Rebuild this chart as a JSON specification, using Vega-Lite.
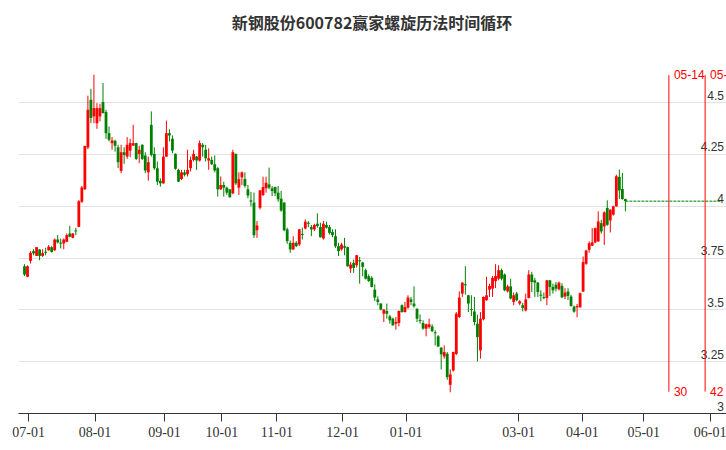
{
  "$schema": "https://vega.github.io/schema/vega-lite/v6.json",
  "autosize": "none",
  "width": 708,
  "height": 353,
  "padding": {"left": 18, "top": 60, "right": 0, "bottom": 37},
  "background": "white",
  "config": {
    "view": {"stroke": null},
    "axisX": {"domainColor": "#333333", "domainWidth": 1, "tickColor": "#333333", "tickSize": 8, "tickWidth": 1,
      "labelColor": "#333333", "labelFont": "Liberation Sans Narrow", "labelFontSize": 14, "labelPadding": 4,
      "labelOverlap": false, "labelBound": false, "labelFlush": 8, "labelFlushOffset": 5, "grid": false},
    "axisY": {"grid": true, "gridColor": "#e3e3e3", "gridWidth": 1, "domain": false, "ticks": false,
      "labelAlign": "right", "labelBaseline": "bottom", "labelPadding": -2.5,
      "labelColor": "#333333", "labelFont": "Liberation Sans", "labelFontSize": 12}
  },
  "title": {"text": "新钢股份600782赢家螺旋历法时间循环", "font": "Noto Sans CJK SC", "fontSize": 16, "fontWeight": "bold", "color": "#333333", "offset": 28, "anchor": "middle", "frame": "group"},
  "datasets": {
    "k": [
      {"t":0,"o":3.708,"h":3.718,"l":3.661,"c":3.668},
      {"t":1,"o":3.657,"h":3.712,"l":3.655,"c":3.708},
      {"t":2,"o":3.734,"h":3.781,"l":3.721,"c":3.773},
      {"t":3,"o":3.781,"h":3.79,"l":3.761,"c":3.77},
      {"t":4,"o":3.758,"h":3.8,"l":3.757,"c":3.8},
      {"t":5,"o":3.789,"h":3.79,"l":3.737,"c":3.758},
      {"t":6,"o":3.758,"h":3.79,"l":3.753,"c":3.771},
      {"t":7,"o":3.778,"h":3.797,"l":3.761,"c":3.773},
      {"t":8,"o":3.785,"h":3.81,"l":3.783,"c":3.802},
      {"t":9,"o":3.8,"h":3.805,"l":3.774,"c":3.777},
      {"t":10,"o":3.785,"h":3.842,"l":3.783,"c":3.837},
      {"t":11,"o":3.837,"h":3.858,"l":3.818,"c":3.823},
      {"t":12,"o":3.822,"h":3.842,"l":3.794,"c":3.817},
      {"t":13,"o":3.818,"h":3.842,"l":3.79,"c":3.837},
      {"t":14,"o":3.826,"h":3.866,"l":3.824,"c":3.858},
      {"t":15,"o":3.866,"h":3.903,"l":3.848,"c":3.85},
      {"t":16,"o":3.845,"h":3.868,"l":3.843,"c":3.866},
      {"t":17,"o":3.881,"h":3.893,"l":3.858,"c":3.876},
      {"t":18,"o":3.898,"h":4.027,"l":3.896,"c":4.022},
      {"t":19,"o":4.019,"h":4.095,"l":4.014,"c":4.088},
      {"t":20,"o":4.079,"h":4.29,"l":4.077,"c":4.288},
      {"t":21,"o":4.281,"h":4.531,"l":4.273,"c":4.463},
      {"t":22,"o":4.511,"h":4.564,"l":4.398,"c":4.423},
      {"t":23,"o":4.431,"h":4.632,"l":4.398,"c":4.471},
      {"t":24,"o":4.398,"h":4.495,"l":4.371,"c":4.471},
      {"t":25,"o":4.431,"h":4.492,"l":4.407,"c":4.471},
      {"t":26,"o":4.5,"h":4.592,"l":4.445,"c":4.447},
      {"t":27,"o":4.452,"h":4.463,"l":4.323,"c":4.35},
      {"t":28,"o":4.35,"h":4.382,"l":4.31,"c":4.318},
      {"t":29,"o":4.302,"h":4.331,"l":4.27,"c":4.315},
      {"t":30,"o":4.313,"h":4.318,"l":4.261,"c":4.289},
      {"t":31,"o":4.282,"h":4.294,"l":4.181,"c":4.21},
      {"t":32,"o":4.168,"h":4.294,"l":4.157,"c":4.258},
      {"t":33,"o":4.258,"h":4.282,"l":4.202,"c":4.245},
      {"t":34,"o":4.237,"h":4.331,"l":4.226,"c":4.294},
      {"t":35,"o":4.266,"h":4.323,"l":4.234,"c":4.302},
      {"t":36,"o":4.29,"h":4.39,"l":4.288,"c":4.302},
      {"t":37,"o":4.302,"h":4.304,"l":4.221,"c":4.226},
      {"t":38,"o":4.25,"h":4.289,"l":4.205,"c":4.27},
      {"t":39,"o":4.294,"h":4.296,"l":4.221,"c":4.226},
      {"t":40,"o":4.242,"h":4.258,"l":4.157,"c":4.17},
      {"t":41,"o":4.161,"h":4.237,"l":4.121,"c":4.21},
      {"t":42,"o":4.39,"h":4.455,"l":4.237,"c":4.245},
      {"t":43,"o":4.25,"h":4.282,"l":4.173,"c":4.181},
      {"t":44,"o":4.181,"h":4.213,"l":4.1,"c":4.116},
      {"t":45,"o":4.12,"h":4.132,"l":4.092,"c":4.108},
      {"t":46,"o":4.108,"h":4.282,"l":4.106,"c":4.237},
      {"t":47,"o":4.237,"h":4.41,"l":4.235,"c":4.35},
      {"t":48,"o":4.35,"h":4.369,"l":4.31,"c":4.339},
      {"t":49,"o":4.323,"h":4.339,"l":4.253,"c":4.266},
      {"t":50,"o":4.25,"h":4.253,"l":4.173,"c":4.178},
      {"t":51,"o":4.173,"h":4.178,"l":4.114,"c":4.116},
      {"t":52,"o":4.129,"h":4.173,"l":4.124,"c":4.161},
      {"t":53,"o":4.161,"h":4.173,"l":4.141,"c":4.149},
      {"t":54,"o":4.152,"h":4.27,"l":4.141,"c":4.173},
      {"t":55,"o":4.181,"h":4.237,"l":4.165,"c":4.221},
      {"t":56,"o":4.221,"h":4.27,"l":4.213,"c":4.25},
      {"t":57,"o":4.237,"h":4.24,"l":4.173,"c":4.218},
      {"t":58,"o":4.218,"h":4.315,"l":4.213,"c":4.302},
      {"t":59,"o":4.294,"h":4.302,"l":4.237,"c":4.282},
      {"t":60,"o":4.27,"h":4.294,"l":4.213,"c":4.229},
      {"t":61,"o":4.218,"h":4.277,"l":4.173,"c":4.229},
      {"t":62,"o":4.221,"h":4.237,"l":4.197,"c":4.2},
      {"t":63,"o":4.2,"h":4.242,"l":4.161,"c":4.17},
      {"t":64,"o":4.181,"h":4.186,"l":4.044,"c":4.079},
      {"t":65,"o":4.079,"h":4.141,"l":4.076,"c":4.1},
      {"t":66,"o":4.1,"h":4.116,"l":4.044,"c":4.087},
      {"t":67,"o":4.087,"h":4.092,"l":4.052,"c":4.063},
      {"t":68,"o":4.079,"h":4.081,"l":4.039,"c":4.041},
      {"t":69,"o":4.06,"h":4.27,"l":4.055,"c":4.258},
      {"t":70,"o":4.25,"h":4.252,"l":4.1,"c":4.108},
      {"t":71,"o":4.087,"h":4.161,"l":4.052,"c":4.128},
      {"t":72,"o":4.137,"h":4.165,"l":4.1,"c":4.161},
      {"t":73,"o":4.129,"h":4.161,"l":4.087,"c":4.095},
      {"t":74,"o":4.079,"h":4.1,"l":4.036,"c":4.049},
      {"t":75,"o":4.026,"h":4.067,"l":3.997,"c":4.02},
      {"t":76,"o":4.015,"h":4.063,"l":3.845,"c":3.858},
      {"t":77,"o":3.882,"h":3.926,"l":3.845,"c":3.905},
      {"t":78,"o":3.99,"h":4.076,"l":3.982,"c":4.074},
      {"t":79,"o":4.052,"h":4.14,"l":4.047,"c":4.09},
      {"t":80,"o":4.084,"h":4.14,"l":4.063,"c":4.111},
      {"t":81,"o":4.103,"h":4.184,"l":4.079,"c":4.087},
      {"t":82,"o":4.084,"h":4.095,"l":4.047,"c":4.071},
      {"t":83,"o":4.09,"h":4.092,"l":4.047,"c":4.06},
      {"t":84,"o":4.063,"h":4.095,"l":4.019,"c":4.031},
      {"t":85,"o":4.034,"h":4.071,"l":3.971,"c":3.977},
      {"t":86,"o":4.015,"h":4.017,"l":3.877,"c":3.882},
      {"t":87,"o":3.886,"h":3.894,"l":3.816,"c":3.829},
      {"t":88,"o":3.821,"h":3.832,"l":3.773,"c":3.789},
      {"t":89,"o":3.789,"h":3.853,"l":3.787,"c":3.821},
      {"t":90,"o":3.821,"h":3.829,"l":3.8,"c":3.805},
      {"t":91,"o":3.813,"h":3.888,"l":3.805,"c":3.886},
      {"t":92,"o":3.864,"h":3.894,"l":3.837,"c":3.859},
      {"t":93,"o":3.89,"h":3.934,"l":3.886,"c":3.923},
      {"t":94,"o":3.918,"h":3.926,"l":3.897,"c":3.913},
      {"t":95,"o":3.897,"h":3.907,"l":3.853,"c":3.886},
      {"t":96,"o":3.886,"h":3.913,"l":3.878,"c":3.907},
      {"t":97,"o":3.913,"h":3.963,"l":3.894,"c":3.902},
      {"t":98,"o":3.897,"h":3.918,"l":3.846,"c":3.848},
      {"t":99,"o":3.842,"h":3.926,"l":3.837,"c":3.913},
      {"t":100,"o":3.907,"h":3.923,"l":3.89,"c":3.894},
      {"t":101,"o":3.897,"h":3.907,"l":3.861,"c":3.869},
      {"t":102,"o":3.873,"h":3.886,"l":3.848,"c":3.858},
      {"t":103,"o":3.853,"h":3.886,"l":3.797,"c":3.805},
      {"t":104,"o":3.805,"h":3.821,"l":3.757,"c":3.781},
      {"t":105,"o":3.789,"h":3.821,"l":3.784,"c":3.813},
      {"t":106,"o":3.805,"h":3.845,"l":3.761,"c":3.797},
      {"t":107,"o":3.8,"h":3.802,"l":3.706,"c":3.708},
      {"t":108,"o":3.697,"h":3.729,"l":3.676,"c":3.716},
      {"t":109,"o":3.724,"h":3.74,"l":3.676,"c":3.7},
      {"t":110,"o":3.713,"h":3.763,"l":3.702,"c":3.761},
      {"t":111,"o":3.737,"h":3.753,"l":3.624,"c":3.732},
      {"t":112,"o":3.726,"h":3.729,"l":3.66,"c":3.705},
      {"t":113,"o":3.689,"h":3.697,"l":3.644,"c":3.648},
      {"t":114,"o":3.66,"h":3.669,"l":3.632,"c":3.637},
      {"t":115,"o":3.652,"h":3.66,"l":3.606,"c":3.608},
      {"t":116,"o":3.595,"h":3.621,"l":3.54,"c":3.557},
      {"t":117,"o":3.548,"h":3.563,"l":3.52,"c":3.536},
      {"t":118,"o":3.528,"h":3.53,"l":3.495,"c":3.499},
      {"t":119,"o":3.479,"h":3.501,"l":3.439,"c":3.499},
      {"t":120,"o":3.492,"h":3.528,"l":3.455,"c":3.479},
      {"t":121,"o":3.466,"h":3.474,"l":3.431,"c":3.447},
      {"t":122,"o":3.455,"h":3.46,"l":3.421,"c":3.423},
      {"t":123,"o":3.431,"h":3.463,"l":3.402,"c":3.439},
      {"t":124,"o":3.434,"h":3.495,"l":3.418,"c":3.492},
      {"t":125,"o":3.52,"h":3.524,"l":3.484,"c":3.487},
      {"t":126,"o":3.487,"h":3.536,"l":3.485,"c":3.511},
      {"t":127,"o":3.508,"h":3.568,"l":3.503,"c":3.557},
      {"t":128,"o":3.548,"h":3.56,"l":3.52,"c":3.536},
      {"t":129,"o":3.528,"h":3.611,"l":3.508,"c":3.515},
      {"t":130,"o":3.503,"h":3.505,"l":3.439,"c":3.455},
      {"t":131,"o":3.449,"h":3.476,"l":3.431,"c":3.444},
      {"t":132,"o":3.434,"h":3.447,"l":3.402,"c":3.407},
      {"t":133,"o":3.407,"h":3.431,"l":3.37,"c":3.428},
      {"t":134,"o":3.415,"h":3.455,"l":3.407,"c":3.428},
      {"t":135,"o":3.418,"h":3.428,"l":3.39,"c":3.395},
      {"t":136,"o":3.389,"h":3.399,"l":3.326,"c":3.384},
      {"t":137,"o":3.37,"h":3.376,"l":3.318,"c":3.321},
      {"t":138,"o":3.315,"h":3.318,"l":3.21,"c":3.283},
      {"t":139,"o":3.273,"h":3.326,"l":3.262,"c":3.294},
      {"t":140,"o":3.286,"h":3.294,"l":3.16,"c":3.173},
      {"t":141,"o":3.136,"h":3.21,"l":3.1,"c":3.186},
      {"t":142,"o":3.205,"h":3.296,"l":3.2,"c":3.294},
      {"t":143,"o":3.285,"h":3.487,"l":3.28,"c":3.479},
      {"t":144,"o":3.463,"h":3.587,"l":3.458,"c":3.557},
      {"t":145,"o":3.576,"h":3.631,"l":3.56,"c":3.629},
      {"t":146,"o":3.621,"h":3.708,"l":3.571,"c":3.616},
      {"t":147,"o":3.568,"h":3.57,"l":3.487,"c":3.528},
      {"t":148,"o":3.501,"h":3.568,"l":3.468,"c":3.497},
      {"t":149,"o":3.49,"h":3.56,"l":3.423,"c":3.439},
      {"t":150,"o":3.431,"h":3.474,"l":3.249,"c":3.366},
      {"t":151,"o":3.302,"h":3.487,"l":3.262,"c":3.455},
      {"t":152,"o":3.452,"h":3.562,"l":3.447,"c":3.56},
      {"t":153,"o":3.544,"h":3.657,"l":3.542,"c":3.568},
      {"t":154,"o":3.595,"h":3.624,"l":3.56,"c":3.613},
      {"t":155,"o":3.6,"h":3.661,"l":3.56,"c":3.652},
      {"t":156,"o":3.636,"h":3.718,"l":3.603,"c":3.661},
      {"t":157,"o":3.648,"h":3.713,"l":3.64,"c":3.689},
      {"t":158,"o":3.689,"h":3.697,"l":3.64,"c":3.648},
      {"t":159,"o":3.668,"h":3.673,"l":3.587,"c":3.592},
      {"t":160,"o":3.587,"h":3.619,"l":3.581,"c":3.611},
      {"t":161,"o":3.611,"h":3.648,"l":3.548,"c":3.552},
      {"t":162,"o":3.536,"h":3.581,"l":3.52,"c":3.568},
      {"t":163,"o":3.576,"h":3.584,"l":3.539,"c":3.544},
      {"t":164,"o":3.528,"h":3.544,"l":3.52,"c":3.539},
      {"t":165,"o":3.52,"h":3.531,"l":3.49,"c":3.507},
      {"t":166,"o":3.495,"h":3.576,"l":3.49,"c":3.548},
      {"t":167,"o":3.555,"h":3.689,"l":3.553,"c":3.668},
      {"t":168,"o":3.668,"h":3.681,"l":3.584,"c":3.632},
      {"t":169,"o":3.64,"h":3.652,"l":3.56,"c":3.629},
      {"t":170,"o":3.629,"h":3.632,"l":3.56,"c":3.584},
      {"t":171,"o":3.571,"h":3.592,"l":3.539,"c":3.566},
      {"t":172,"o":3.559,"h":3.581,"l":3.549,"c":3.554},
      {"t":173,"o":3.555,"h":3.642,"l":3.52,"c":3.64},
      {"t":174,"o":3.64,"h":3.642,"l":3.565,"c":3.608},
      {"t":175,"o":3.608,"h":3.624,"l":3.576,"c":3.592},
      {"t":176,"o":3.619,"h":3.632,"l":3.587,"c":3.6},
      {"t":177,"o":3.597,"h":3.634,"l":3.591,"c":3.629},
      {"t":178,"o":3.613,"h":3.626,"l":3.554,"c":3.558},
      {"t":179,"o":3.562,"h":3.602,"l":3.549,"c":3.581},
      {"t":180,"o":3.586,"h":3.602,"l":3.545,"c":3.565},
      {"t":181,"o":3.562,"h":3.57,"l":3.513,"c":3.516},
      {"t":182,"o":3.513,"h":3.518,"l":3.484,"c":3.489},
      {"t":183,"o":3.51,"h":3.526,"l":3.462,"c":3.516},
      {"t":184,"o":3.51,"h":3.581,"l":3.508,"c":3.578},
      {"t":185,"o":3.586,"h":3.755,"l":3.584,"c":3.728},
      {"t":186,"o":3.72,"h":3.787,"l":3.715,"c":3.784},
      {"t":187,"o":3.787,"h":3.828,"l":3.774,"c":3.819},
      {"t":188,"o":3.807,"h":3.892,"l":3.805,"c":3.823},
      {"t":189,"o":3.823,"h":3.894,"l":3.819,"c":3.892},
      {"t":190,"o":3.828,"h":3.973,"l":3.826,"c":3.924},
      {"t":191,"o":3.916,"h":3.932,"l":3.865,"c":3.876},
      {"t":192,"o":3.9,"h":3.973,"l":3.811,"c":3.968},
      {"t":193,"o":3.989,"h":4.026,"l":3.903,"c":3.908},
      {"t":194,"o":3.929,"h":3.983,"l":3.871,"c":3.981},
      {"t":195,"o":3.957,"h":4.0,"l":3.952,"c":3.997},
      {"t":196,"o":3.997,"h":4.15,"l":3.995,"c":4.142},
      {"t":197,"o":4.139,"h":4.174,"l":4.032,"c":4.074},
      {"t":198,"o":4.081,"h":4.158,"l":4.029,"c":4.032},
      {"t":199,"o":4.032,"h":4.034,"l":3.973,"c":4.022}
    ],
    "last": [{"from": 199, "to": 230.66, "price": 4.022}],
    "cycles": [
      {"t": 213.4, "date": "05-14", "days": "30"},
      {"t": 225.4, "date": "05-29", "days": "42"}
    ]
  },
  "layer": [
    {
      "data": {"name": "k"},
      "mark": {"type": "rule", "strokeWidth": 1, "clip": true},
      "encoding": {
        "x": {"field": "t", "type": "quantitative", "title": null,
          "scale": {"domain": [-0.49, 230.66], "nice": false, "zero": false},
          "axis": {"orient": "bottom",
            "values": [1.2, 23.2, 46.2, 65.2, 83.4, 105.2, 126.2, 163.5, 184.6, 204.9, 226.9],
            "labelExpr": "datum.value < 10 ? '07-01' : datum.value < 30 ? '08-01' : datum.value < 50 ? '09-01' : datum.value < 70 ? '10-01' : datum.value < 90 ? '11-01' : datum.value < 110 ? '12-01' : datum.value < 140 ? '01-01' : datum.value < 170 ? '03-01' : datum.value < 190 ? '04-01' : datum.value < 210 ? '05-01' : '06-01'"}},
        "y": {"field": "l", "type": "quantitative", "title": null,
          "scale": {"domain": [3, 4.703], "nice": false, "zero": false},
          "axis": {"orient": "right", "values": [3, 3.25, 3.5, 3.75, 4, 4.25, 4.5], "format": ".2~f"}},
        "y2": {"field": "h"},
        "color": {"condition": {"test": "datum.c >= datum.o", "value": "#ff0000"}, "value": "#008000"}
      }
    },
    {
      "data": {"name": "k"},
      "mark": {"type": "bar", "width": 2.8, "clip": true},
      "encoding": {
        "x": {"field": "t", "type": "quantitative", "title": null, "scale": {"domain": [-0.49, 230.66], "nice": false, "zero": false}, "axis": {"orient": "bottom"}},
        "y": {"field": "o", "type": "quantitative", "title": null, "scale": {"domain": [3, 4.703], "nice": false, "zero": false}, "axis": {"orient": "right"}},
        "y2": {"field": "c"},
        "color": {"condition": {"test": "datum.c >= datum.o", "value": "#ff0000"}, "value": "#008000"}
      }
    },
    {
      "data": {"name": "last"},
      "mark": {"type": "rule", "color": "#008000", "strokeWidth": 1, "strokeDash": [3, 1], "clip": true},
      "encoding": {
        "x": {"field": "from", "type": "quantitative", "title": null, "scale": {"domain": [-0.49, 230.66], "nice": false, "zero": false}, "axis": {"orient": "bottom"}},
        "x2": {"field": "to"},
        "y": {"field": "price", "type": "quantitative", "title": null, "scale": {"domain": [3, 4.703], "nice": false, "zero": false}, "axis": {"orient": "right"}}
      }
    },
    {
      "data": {"name": "cycles"},
      "mark": {"type": "rule", "color": "#ff0000", "strokeWidth": 1},
      "encoding": {
        "x": {"field": "t", "type": "quantitative", "title": null, "scale": {"domain": [-0.49, 230.66], "nice": false, "zero": false}, "axis": {"orient": "bottom"}},
        "y": {"datum": 4.63, "type": "quantitative", "title": null, "scale": {"domain": [3, 4.703], "nice": false, "zero": false}, "axis": {"orient": "right"}},
        "y2": {"datum": 3.103}
      }
    },
    {
      "data": {"name": "cycles"},
      "mark": {"type": "text", "color": "#ff0000", "font": "Liberation Sans", "fontSize": 12, "align": "left", "baseline": "middle", "dx": 5},
      "encoding": {
        "x": {"field": "t", "type": "quantitative", "title": null, "scale": {"domain": [-0.49, 230.66], "nice": false, "zero": false}, "axis": {"orient": "bottom"}},
        "y": {"datum": 4.63, "type": "quantitative", "title": null, "scale": {"domain": [3, 4.703], "nice": false, "zero": false}, "axis": {"orient": "right"}},
        "text": {"field": "date"}
      }
    },
    {
      "data": {"name": "cycles"},
      "mark": {"type": "text", "color": "#ff0000", "font": "Liberation Sans", "fontSize": 12, "align": "left", "baseline": "middle", "dx": 5},
      "encoding": {
        "x": {"field": "t", "type": "quantitative", "title": null, "scale": {"domain": [-0.49, 230.66], "nice": false, "zero": false}, "axis": {"orient": "bottom"}},
        "y": {"datum": 3.103, "type": "quantitative", "title": null, "scale": {"domain": [3, 4.703], "nice": false, "zero": false}, "axis": {"orient": "right"}},
        "text": {"field": "days"}
      }
    }
  ]
}
